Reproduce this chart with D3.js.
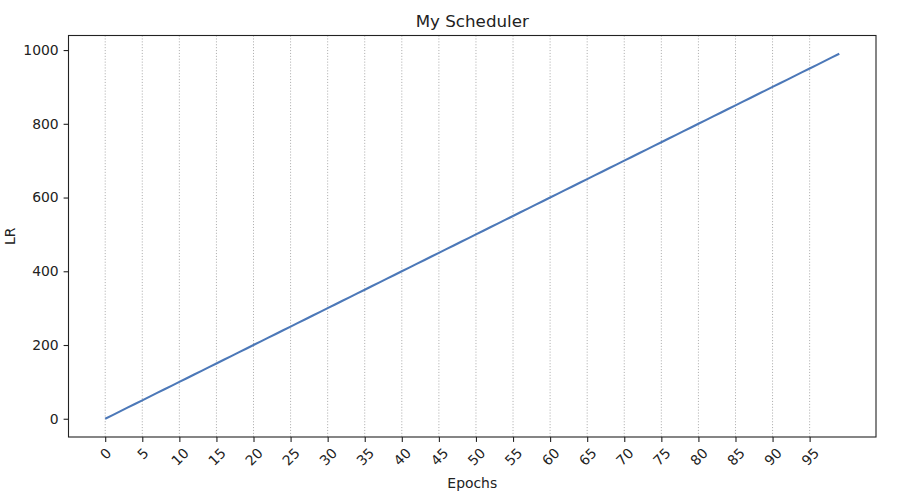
<!DOCTYPE html>
<html><head><meta charset="utf-8">
<script src="https://cdn.jsdelivr.net/npm/d3@7"></script>
<style>body{margin:0;background:#fff}text{font-family:"DejaVu Sans",sans-serif;fill:#222}</style>
</head><body><svg id="c" width="909" height="500"></svg>
<script>
const epochs = [0,1,2,3,4,5,6,7,8,9,10,11,12,13,14,15,16,17,18,19,20,21,22,23,24,25,26,27,28,29,30,31,32,33,34,35,36,37,38,39,40,41,42,43,44,45,46,47,48,49,50,51,52,53,54,55,56,57,58,59,60,61,62,63,64,65,66,67,68,69,70,71,72,73,74,75,76,77,78,79,80,81,82,83,84,85,86,87,88,89,90,91,92,93,94,95,96,97,98,99];
const lr = [0,10,20,30,40,50,60,70,80,90,100,110,120,130,140,150,160,170,180,190,200,210,220,230,240,250,260,270,280,290,300,310,320,330,340,350,360,370,380,390,400,410,420,430,440,450,460,470,480,490,500,510,520,530,540,550,560,570,580,590,600,610,620,630,640,650,660,670,680,690,700,710,720,730,740,750,760,770,780,790,800,810,820,830,840,850,860,870,880,890,900,910,920,930,940,950,960,970,980,990];
const xTicks = [0,5,10,15,20,25,30,35,40,45,50,55,60,65,70,75,80,85,90,95];
const yTicks = [0,200,400,600,800,1000];
const title = "My Scheduler", xLabel = "Epochs", yLabel = "LR";

const L=68.5, T=35.5, R=876, B=437;
const FS=13.9;
const svg = d3.select("#c");
const x = d3.scaleLinear().domain([-4.95,103.95]).range([L,R]);
const y = d3.scaleLinear().domain([-49.5,1039.5]).range([B,T]);

svg.append("g").selectAll("line").data(xTicks).join("line")
  .attr("x1",d=>x(d)).attr("x2",d=>x(d)).attr("y1",T).attr("y2",B)
  .attr("stroke","#b0b0b0").attr("stroke-width",1).attr("stroke-dasharray","1.1,1.8");

svg.append("path").datum(epochs.map((e,i)=>[e,lr[i]]))
  .attr("d",d3.line().x(d=>x(d[0])).y(d=>y(d[1])))
  .attr("fill","none").attr("stroke","#4c78b8").attr("stroke-width",2.08);

svg.append("rect").attr("x",L).attr("y",T).attr("width",R-L).attr("height",B-T)
  .attr("fill","none").attr("stroke","#222").attr("stroke-width",1.1);

const xa = svg.append("g").attr("transform",`translate(0,${B})`)
  .call(d3.axisBottom(x).tickValues(xTicks).tickFormat(d3.format("d")).tickSize(4.9).tickPadding(4.9));
xa.select(".domain").remove();
xa.selectAll("line").attr("stroke","#222").attr("stroke-width",1.1);
xa.selectAll("text").attr("font-size",FS).attr("font-family","DejaVu Sans").attr("fill","#222")
  .each(function(){
    const t=d3.select(this); const w=this.getComputedTextLength(); const h=10.1;
    const s=(w+h)*Math.SQRT1_2/2;
    t.attr("y",0).attr("dy",null).attr("dominant-baseline","central").attr("text-anchor","middle")
     .attr("transform",`translate(0,${9.8+s}) rotate(-45)`);
  });

const ya = svg.append("g").attr("transform",`translate(${L},0)`)
  .call(d3.axisLeft(y).tickValues(yTicks).tickFormat(d3.format("d")).tickSize(4.9).tickPadding(4.9));
ya.select(".domain").remove();
ya.selectAll("line").attr("stroke","#222").attr("stroke-width",1.1);
ya.selectAll("text").attr("font-size",FS).attr("font-family","DejaVu Sans").attr("fill","#222");

svg.append("text").attr("x",(L+R)/2).attr("y",27).attr("text-anchor","middle").attr("font-size",16.7).text(title);
svg.append("text").attr("x",(L+R)/2).attr("y",488).attr("text-anchor","middle").attr("font-size",FS).text(xLabel);
svg.append("text").attr("transform",`translate(15,${(T+B)/2}) rotate(-90)`).attr("text-anchor","middle").attr("font-size",FS).text(yLabel);
</script></body></html>
